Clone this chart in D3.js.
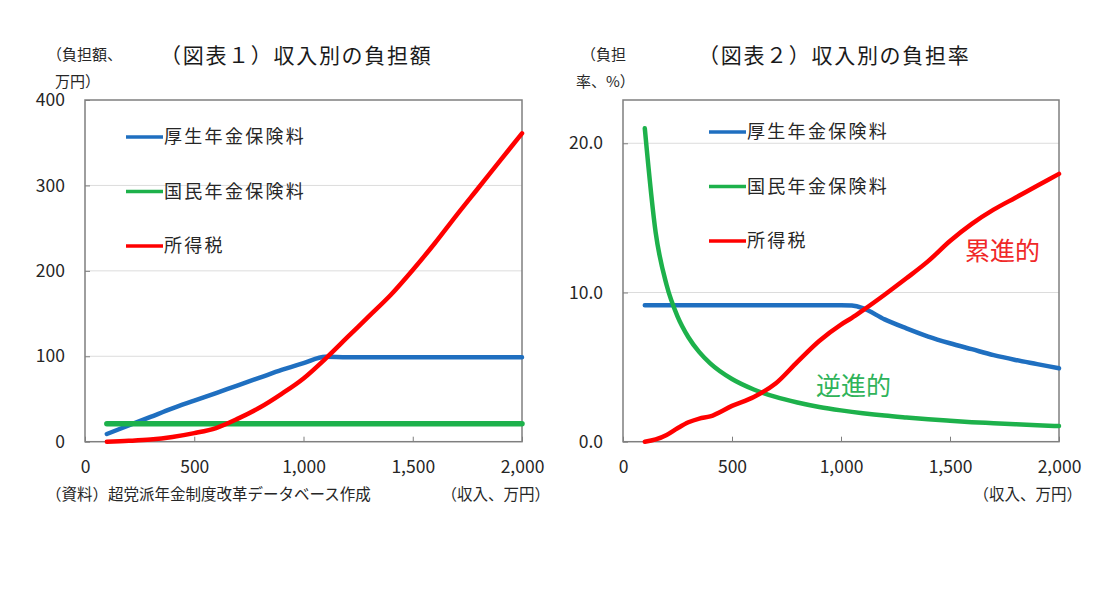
<!DOCTYPE html>
<html>
<head>
<meta charset="utf-8">
<script src="https://cdn.jsdelivr.net/npm/d3@7/dist/d3.min.js"></script>
<style>
  html, body { margin: 0; padding: 0; background: #fff; }
  svg { display: block; font-family: "Noto Sans CJK JP", "Noto Sans", sans-serif; }
</style>
</head>
<body>
<svg id="chart" width="1111" height="604"></svg>
<script>
// income (万円)
const incomeAmt = [100, 200, 300, 400, 500, 600, 700, 800, 900, 1000,
  1100, 1200, 1300, 1400, 1500, 1600, 1700, 1800, 1900, 2000];
// 図表1: 負担額 (万円)
const kouseiAmt = [9, 19, 29, 39, 48, 57, 66, 75, 84, 92,
  99.5, 99, 99, 99, 99, 99, 99, 99, 99, 99];
const kokuminAmt = [21, 21, 21, 21, 21, 21, 21, 21, 21, 21,
  21, 21, 21, 21, 21, 21, 21, 21, 21, 21];
const taxAmt = [0, 1, 2.5, 5.5, 10, 16, 27, 40, 56, 74,
  97, 122, 147, 172, 201, 232, 265, 297, 329, 361];

const incomeRate = [100, 150, 200, 250, 300, 350, 400, 500, 600, 700, 800, 900, 1000,
  1050, 1100, 1200, 1300, 1400, 1500, 1600, 1700, 1800, 1900, 2000];
// 図表2: 負担率 (%)
const kouseiRate = [9.15, 9.15, 9.15, 9.15, 9.15, 9.15, 9.15, 9.15, 9.15, 9.15, 9.15, 9.15, 9.15,
  9.12, 8.95, 8.2, 7.6, 7.05, 6.6, 6.2, 5.8, 5.48, 5.2, 4.92];
const kokuminRate = [21.0, 14.0, 10.5, 8.4, 7.0, 6.0, 5.25, 4.2, 3.5, 3.0, 2.63, 2.33, 2.1,
  2.0, 1.91, 1.75, 1.62, 1.5, 1.4, 1.31, 1.24, 1.17, 1.1, 1.05];
const taxRate = [0, 0.15, 0.45, 0.9, 1.3, 1.55, 1.7, 2.4, 3.0, 3.9, 5.35, 6.75, 7.85,
  8.3, 8.8, 9.85, 10.95, 12.1, 13.45, 14.6, 15.55, 16.35, 17.15, 17.95];

const seriesNames = ['厚生年金保険料', '国民年金保険料', '所得税'];
const seriesColors = ['#1f6fc0', '#1db14b', '#ff0000'];
const xTicks = [0, 500, 1000, 1500, 2000];

const svg = d3.select('#chart');
const TEXT = '#262626';

const drawPanel = (p) => {
  const x = d3.scaleLinear().domain([0, 2000]).range([p.left, p.right]);
  const y = d3.scaleLinear().domain([0, p.yMax]).range([p.bottom, p.top]);
  const g = svg.append('g');

  // gridlines
  g.selectAll('.grid')
    .data(p.yTicks.filter((t) => t > 0 && y(t) > p.top + 1))
    .enter().append('line')
    .attr('x1', p.left).attr('x2', p.right)
    .attr('y1', (d) => y(d)).attr('y2', (d) => y(d))
    .style('stroke', '#dcdcdc').style('stroke-width', 1);

  // axes
  const xAxis = g.append('g')
    .attr('transform', `translate(0,${p.bottom})`)
    .call(d3.axisBottom(x).tickValues(xTicks).tickFormat(d3.format(','))
      .tickSizeInner(-5).tickSizeOuter(0).tickPadding(19));
  const yAxis = g.append('g')
    .attr('transform', `translate(${p.left},0)`)
    .call(d3.axisLeft(y).tickValues(p.yTicks).tickFormat(p.yFormat)
      .tickSizeInner(-5).tickSizeOuter(0).tickPadding(20));
  [xAxis, yAxis].forEach((a) => {
    a.select('.domain').remove();
    a.selectAll('line').style('stroke', '#7f7f7f');
    a.selectAll('text').style('font-size', '17.5px').style('fill', TEXT)
      .style('font-family', '"Noto Sans CJK JP", sans-serif');
  });

  // plot border
  g.append('rect')
    .attr('x', p.left).attr('y', p.top)
    .attr('width', p.right - p.left).attr('height', p.bottom - p.top)
    .style('fill', 'none').style('stroke', '#7f7f7f').style('stroke-width', 1.5);

  // lines
  const line = d3.line()
    .x((d) => x(d[0]))
    .y((d) => y(d[1]))
    .curve(d3.curveMonotoneX);
  p.series.forEach((vals, i) => {
    g.append('path')
      .datum(p.income.map((inc, j) => [inc, vals[j]]))
      .attr('d', line)
      .style('fill', 'none')
      .style('stroke', seriesColors[i])
      .style('stroke-width', p.widths[i])
      .style('stroke-linejoin', 'round')
      .style('stroke-linecap', 'round');
  });

  // legend
  seriesNames.forEach((name, i) => {
    const ly = p.legendY + i * 54.5;
    g.append('line')
      .attr('x1', p.legendX).attr('x2', p.legendX + 37)
      .attr('y1', ly).attr('y2', ly)
      .style('stroke', seriesColors[i]).style('stroke-width', 3.5);
    g.append('text')
      .attr('x', p.legendX + 38).attr('y', ly)
      .attr('dy', '0.35em')
      .style('font-size', '18px').style('letter-spacing', '2.3px')
      .style('fill', TEXT)
      .text(name);
  });

  // title
  g.append('text')
    .attr('x', p.titleX).attr('y', 56).attr('dy', '0.35em')
    .style('font-size', '21px').style('letter-spacing', '1.7px')
    .style('fill', '#1a1a1a')
    .text(p.title);

  // y unit
  p.unit.forEach((u, i) => {
    g.append('text')
      .attr('x', u[1]).attr('y', 55 + i * 26.5).attr('dy', '0.35em')
      .style('font-size', '15px').style('fill', TEXT)
      .text(u[0]);
  });

  // x unit
  g.append('text')
    .attr('x', p.xUnitX).attr('y', 495).attr('dy', '0.35em')
    .attr('text-anchor', 'end')
    .style('font-size', '15.5px').style('fill', TEXT)
    .text('（収入、万円）');

  return { x, y, g };
};

drawPanel({
  left: 85, right: 522, top: 100, bottom: 441.7,
  yMax: 400, yTicks: [0, 100, 200, 300, 400], yFormat: d3.format('d'),
  income: incomeAmt, series: [kouseiAmt, kokuminAmt, taxAmt], widths: [4.5, 5.5, 4.5],
  legendX: 126, legendY: 137,
  title: '（図表１）収入別の負担額', titleX: 160,
  unit: [['（負担額、', 47], ['万円）', 55]],
  xUnitX: 550,
});

const p2 = drawPanel({
  left: 623, right: 1059, top: 100, bottom: 441.7,
  yMax: 22.9, yTicks: [0, 10, 20], yFormat: d3.format('.1f'),
  income: incomeRate, series: [kouseiRate, kokuminRate, taxRate], widths: [4.5, 4.5, 4.5],
  legendX: 709, legendY: 132,
  title: '（図表２）収入別の負担率', titleX: 698,
  unit: [['（負担', 581], ['率、%）', 576]],
  xUnitX: 1082,
});

// annotations
p2.g.append('text')
  .attr('x', 965).attr('y', 251).attr('dy', '0.35em')
  .style('font-size', '25px').style('fill', '#f02828')
  .text('累進的');
p2.g.append('text')
  .attr('x', 816).attr('y', 386).attr('dy', '0.35em')
  .style('font-size', '25px').style('fill', '#2fb35a')
  .text('逆進的');

// source
svg.append('text')
  .attr('x', 46).attr('y', 495).attr('dy', '0.35em')
  .style('font-size', '15.5px').style('fill', TEXT)
  .text('（資料）超党派年金制度改革データベース作成');
</script>
</body>
</html>
